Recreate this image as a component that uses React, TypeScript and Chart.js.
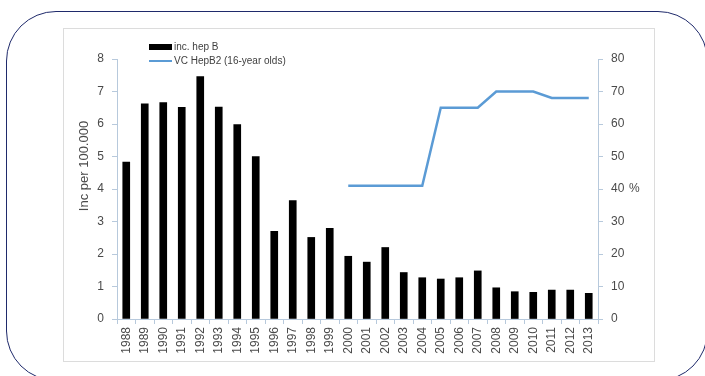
import React, { useEffect, useRef } from "react";
import { Chart, registerables } from "chart.js";

Chart.register(...registerables);

const years = ["1988","1989","1990","1991","1992","1993","1994","1995","1996","1997","1998","1999","2000","2001","2002","2003","2004","2005","2006","2007","2008","2009","2010","2011","2012","2013"];
const incHepB = [4.83,6.62,6.66,6.51,7.46,6.52,5.98,5.0,2.7,3.64,2.51,2.79,1.93,1.75,2.2,1.43,1.27,1.23,1.27,1.48,0.96,0.84,0.82,0.89,0.89,0.79];
const vcHepB2 = [null,null,null,null,null,null,null,null,null,null,null,null,41,41,41,41,41,65,65,65,70,70,70,68,68,68];
const leftTicks = [0,1,2,3,4,5,6,7,8];
const rightTicks = [0,10,20,30,40,50,60,70,80];
const barLabel = "inc. hep B";
const lineLabel = "VC HepB2 (16-year olds)";
const yTitle = "Inc per 100.000";
const y1Title = "%";

const FONT = "'Liberation Sans', Arial, sans-serif";
const AXIS = "#b7c9dc";
const TEXT = "#4a4a4a";
const BLUE = "#5b9bd5";

const overlay = {
  id: "overlay",
  afterDraw(chart: any) {
    const ctx = chart.ctx;
    ctx.save();
    ctx.fillStyle = TEXT;
    ctx.font = `13px ${FONT}`;
    ctx.translate(84, 166);
    ctx.rotate(-Math.PI / 2);
    ctx.textAlign = "center";
    ctx.textBaseline = "middle";
    ctx.fillText(yTitle, 0, 0);
    ctx.restore();

    ctx.save();
    ctx.fillStyle = TEXT;
    ctx.font = `12px ${FONT}`;
    ctx.textAlign = "left";
    ctx.textBaseline = "middle";
    const y40 = chart.scales.y1.getPixelForValue(40);
    ctx.fillText(y1Title, 629, y40);

    const lx = 149;
    ctx.fillStyle = "#000";
    ctx.fillRect(lx, 44, 23, 6);
    ctx.strokeStyle = BLUE;
    ctx.lineWidth = 2;
    ctx.beginPath();
    ctx.moveTo(lx, 61);
    ctx.lineTo(lx + 23, 61);
    ctx.stroke();
    ctx.fillStyle = "#404040";
    ctx.font = `10px ${FONT}`;
    ctx.fillText(barLabel, lx + 25, 47.5);
    ctx.fillText(lineLabel, lx + 25, 61.5);
    ctx.restore();
  },
};

export default function App() {
  const ref = useRef<HTMLCanvasElement>(null);
  useEffect(() => {
    if (!ref.current) return;
    Chart.defaults.font.family = FONT;
    const chart = new Chart(ref.current, {
      type: "bar",
      data: {
        labels: years,
        datasets: [
          {
            type: "line",
            label: lineLabel,
            data: vcHepB2,
            yAxisID: "y1",
            borderColor: BLUE,
            backgroundColor: BLUE,
            borderWidth: 2.5,
            pointRadius: 0,
            tension: 0,
            spanGaps: false,
            order: 0,
          } as any,
          {
            type: "bar",
            label: barLabel,
            data: incHepB,
            yAxisID: "y",
            backgroundColor: "#000",
            barThickness: 7,
            order: 1,
          },
        ],
      },
      options: {
        responsive: false,
        animation: false,
        layout: { padding: { left: 63, right: 50, top: 59, bottom: 14 } },
        plugins: { legend: { display: false }, tooltip: { enabled: false } },
        scales: {
          x: {
            grid: { display: true, drawOnChartArea: false, drawTicks: true, tickLength: 5, color: AXIS, offset: true },
            border: { display: true, color: AXIS },
            ticks: { color: TEXT, font: { size: 12 }, minRotation: 90, maxRotation: 90, padding: 3, autoSkip: false },
            afterFit: (s: any) => { s.height = 43; },
          },
          y: {
            position: "left",
            min: 0,
            max: 8,
            afterBuildTicks: (s: any) => { s.ticks = leftTicks.map((v) => ({ value: v })); },
            grid: { display: true, drawOnChartArea: false, drawTicks: true, tickLength: 5, color: AXIS },
            border: { display: true, color: AXIS },
            ticks: { color: TEXT, font: { size: 12 }, padding: 8 },
            afterFit: (s: any) => { s.width = 54; },
          },
          y1: {
            position: "right",
            min: 0,
            max: 80,
            afterBuildTicks: (s: any) => { s.ticks = rightTicks.map((v) => ({ value: v })); },
            grid: { display: true, drawOnChartArea: false, drawTicks: true, tickLength: 5, color: AXIS },
            border: { display: true, color: AXIS },
            ticks: { color: TEXT, font: { size: 12 }, padding: 8 },
            afterFit: (s: any) => { s.width = 57; },
          },
        },
      },
      plugins: [overlay],
    });
    return () => chart.destroy();
  }, []);

  return (
    <div style={{ position: "fixed", left: 0, top: 0, width: 705, height: 376, overflow: "hidden", background: "#fff" }}>
      <div
        style={{
          position: "absolute",
          left: 6,
          top: 11,
          width: 702,
          height: 370,
          boxSizing: "border-box",
          border: "1.5px solid #1f2a6b",
          borderRadius: 50,
        }}
      />
      <div
        style={{
          position: "absolute",
          left: 63,
          top: 28,
          width: 592,
          height: 334,
          boxSizing: "border-box",
          border: "1px solid #dcdcdc",
          background: "#fff",
        }}
      />
      <canvas ref={ref} width={705} height={376} style={{ position: "absolute", left: 0, top: 0, width: 705, height: 376 }} />
    </div>
  );
}
